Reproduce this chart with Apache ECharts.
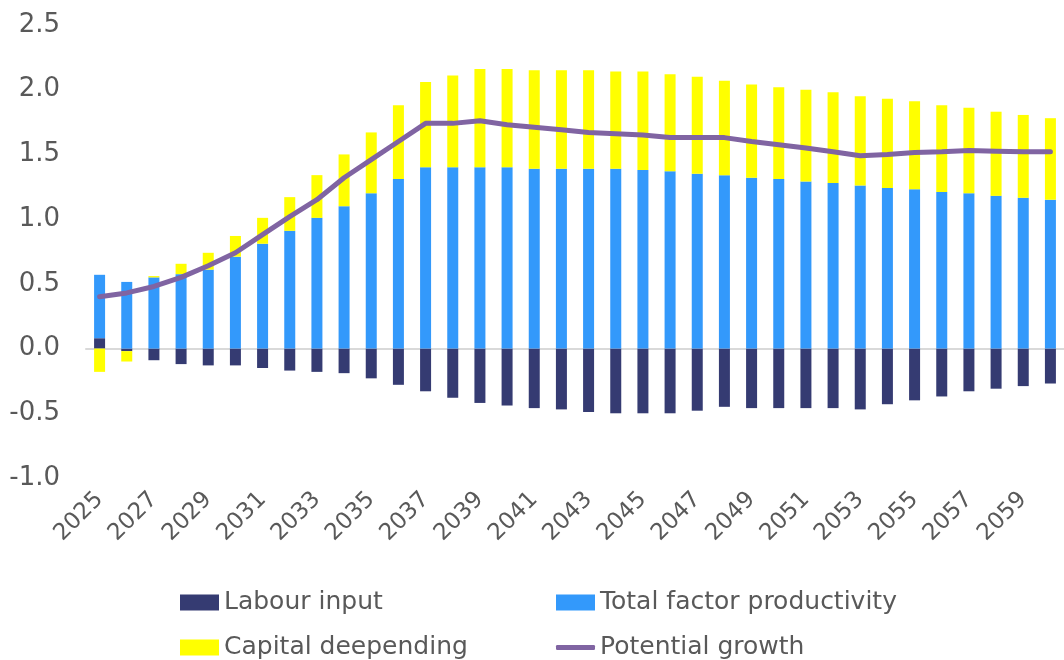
<!DOCTYPE html>
<html>
<head>
<meta charset="utf-8">
<script src="https://cdn.jsdelivr.net/npm/echarts@6/dist/echarts.min.js"></script>
<style>
  html, body { margin: 0; padding: 0; background: #fff; }
  #chart { width: 1064px; height: 660px; }
</style>
</head>
<body>
<div id="chart"></div>
<script>
const years = []
for (let y = 2025; y <= 2060; y++) years.push(String(y))

const labourInput = [
  0.08, -0.02, -0.09, -0.12, -0.13, -0.13, -0.15, -0.17, -0.18, -0.19,
  -0.23, -0.28, -0.33, -0.38, -0.42, -0.44, -0.46, -0.47, -0.49, -0.50, -0.50, -0.50,
  -0.48, -0.45, -0.46, -0.46, -0.46, -0.46, -0.47, -0.43, -0.40, -0.37, -0.33, -0.31, -0.29, -0.27
]
const tfp = [
  0.49, 0.515, 0.55, 0.575, 0.61, 0.71, 0.81, 0.91, 1.01, 1.10,
  1.20, 1.31, 1.40, 1.40, 1.40, 1.40, 1.39, 1.39, 1.39, 1.39, 1.38, 1.37,
  1.35, 1.34, 1.32, 1.31, 1.29, 1.28, 1.26, 1.24, 1.23, 1.21, 1.20, 1.18, 1.165, 1.15
]
const capitalDeepening = [
  -0.18, -0.08, 0.01, 0.08, 0.13, 0.16, 0.20, 0.26, 0.33, 0.40,
  0.47, 0.57, 0.66, 0.71, 0.76, 0.76, 0.76, 0.76, 0.76, 0.75, 0.76, 0.75,
  0.75, 0.73, 0.72, 0.71, 0.71, 0.70, 0.69, 0.69, 0.68, 0.67, 0.66, 0.65, 0.64, 0.63
]
const potentialGrowth = [
  0.40, 0.43, 0.48, 0.55, 0.64, 0.74, 0.88, 1.02, 1.15, 1.32,
  1.46, 1.60, 1.74, 1.74, 1.76, 1.73, 1.71, 1.69, 1.67, 1.66, 1.65, 1.63,
  1.63, 1.63, 1.60, 1.575, 1.55, 1.52, 1.49, 1.50, 1.515, 1.52, 1.53, 1.525, 1.52, 1.52
]

const font = 'DejaVu Sans'
const grey = '#595959'

const chart = echarts.init(document.getElementById('chart'))

// one legend per entry so the 2x2 layout stays put
const legendItem = (name, left, top, icon, h) => ({
  left: left,
  top: top,
  icon: icon,
  itemWidth: 39,
  itemHeight: h,
  padding: 0,
  textStyle: { color: grey, fontSize: 25, fontFamily: font, padding: [0, 0, 0, 0] },
  data: [name]
})

const option = {
  animation: false,
  grid: {
    left: 86,
    right: -5,
    top: 25,
    bottom: 182
  },
  legend: [
    legendItem('Labour input', 180, 590, 'rect', 16),
    legendItem('Total factor productivity', 556, 590, 'rect', 16),
    legendItem('Capital deepending', 180, 635, 'rect', 16),
    legendItem('Potential growth', 556, 635, 'roundRect', 5)
  ],
  xAxis: {
    type: 'category',
    data: years,
    axisTick: { show: false },
    axisLine: { lineStyle: { color: '#d9d9d9', width: 2 } },
    axisLabel: {
      interval: 1,
      rotate: 45,
      margin: 18,
      color: grey,
      fontSize: 23,
      fontFamily: font
    }
  },
  yAxis: {
    type: 'value',
    min: -1,
    max: 2.5,
    interval: 0.5,
    splitLine: { show: false },
    axisLine: { show: false },
    axisTick: { show: false },
    axisLabel: {
      margin: 26,
      color: grey,
      fontSize: 26,
      fontFamily: font,
      formatter: (v) => v.toFixed(1)
    }
  },
  series: [
    {
      name: 'Labour input',
      type: 'bar',
      stack: 'total',
      barWidth: 11,
      itemStyle: { color: '#353b72' },
      data: labourInput
    },
    {
      name: 'Total factor productivity',
      type: 'bar',
      stack: 'total',
      barWidth: 11,
      itemStyle: { color: '#3399fb' },
      data: tfp
    },
    {
      name: 'Capital deepending',
      type: 'bar',
      stack: 'total',
      barWidth: 11,
      itemStyle: { color: '#ffff00' },
      data: capitalDeepening
    },
    {
      name: 'Potential growth',
      type: 'line',
      symbol: 'none',
      z: 5,
      lineStyle: { color: '#8064a2', width: 5, cap: 'round' },
      itemStyle: { color: '#8064a2' },
      data: potentialGrowth
    }
  ]
}

chart.setOption(option)
</script>
</body>
</html>
